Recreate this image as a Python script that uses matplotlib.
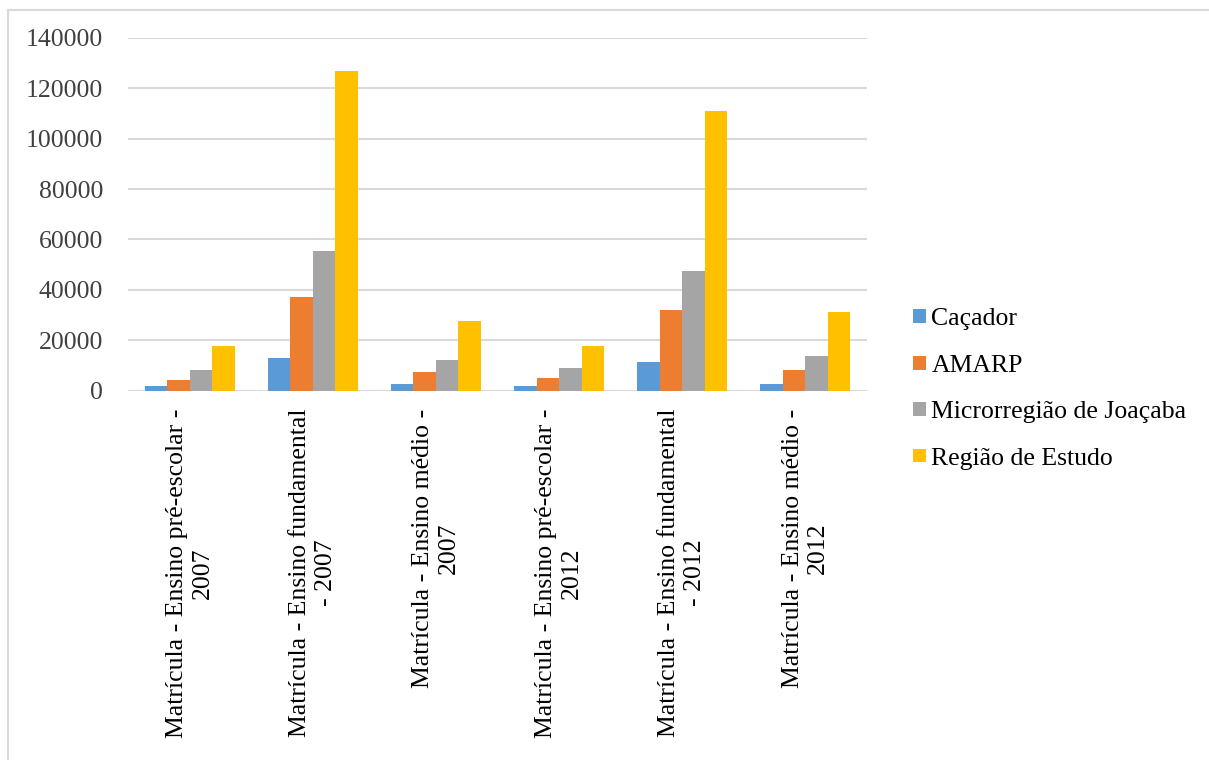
import matplotlib
matplotlib.use("Agg")
import matplotlib.pyplot as plt
import numpy as np
from matplotlib.lines import Line2D

categories = [
    "Matrícula - Ensino pré-escolar -\n2007",
    "Matrícula - Ensino fundamental\n- 2007",
    "Matrícula - Ensino médio -\n2007",
    "Matrícula - Ensino pré-escolar -\n2012",
    "Matrícula - Ensino fundamental\n- 2012",
    "Matrícula - Ensino médio -\n2012",
]
series_names = ["Caçador", "AMARP", "Microrregião de Joaçaba", "Região de Estudo"]
cacador = [1750, 12800, 2500, 1750, 11200, 2500]
amarp = [4100, 37300, 7300, 4900, 31900, 8000]
microrregiao = [8100, 55500, 12000, 8800, 47500, 13600]
regiao_estudo = [17500, 126800, 27800, 17500, 111000, 31000]
yticks = [0, 20000, 40000, 60000, 80000, 100000, 120000, 140000]

colors = ["#5B9BD5", "#ED7D31", "#A5A5A5", "#FFC000"]
plt.rcParams["font.family"] = ["Liberation Serif", "DejaVu Serif"]
FS = 18.5

fig = plt.figure(figsize=(12.09, 7.6), dpi=100)
ax = fig.add_axes([128 / 1209, 1 - 390.5 / 760, (867 - 128) / 1209, (390.5 - 38) / 760])

x = np.arange(len(categories))
width = 0.183
for i, (vals, name) in enumerate(zip([cacador, amarp, microrregiao, regiao_estudo], series_names)):
    ax.bar(x + (i - 1.5) * width, vals, width, color=colors[i], label=name, zorder=3)

ax.set_xlim(-0.5, len(categories) - 0.5)
ax.set_ylim(0, 140000)
ax.set_yticks(yticks)
ax.set_yticklabels([str(v) for v in yticks], fontsize=FS, color="#404040")
ax.set_xticks(x)
ax.set_xticklabels(categories, rotation=90, fontsize=FS, color="#000000",
                   va="top", ha="center", multialignment="center", linespacing=1.22)
ax.tick_params(axis="both", length=0)
ax.tick_params(axis="y", pad=18)
ax.tick_params(axis="x", pad=13)
ax.grid(axis="y", color="#D9D9D9", linewidth=1.5, zorder=0)
for s in ax.spines.values():
    s.set_visible(False)

leg = fig.legend(loc="center left", bbox_to_anchor=(903 / 1209, 1 - 389 / 760),
                 frameon=False, fontsize=FS, handlelength=0.5, handleheight=0.45,
                 handletextpad=0.2, labelspacing=0.95, borderaxespad=0)

# chart border (top and left visible)
fig.add_artist(Line2D([8 / 1209, 1.0], [1 - 10 / 760, 1 - 10 / 760], color="#D9D9D9", linewidth=1.5))
fig.add_artist(Line2D([8 / 1209, 8 / 1209], [0.0, 1 - 10 / 760], color="#D9D9D9", linewidth=1.5))

fig.savefig("out.png", dpi=100)
